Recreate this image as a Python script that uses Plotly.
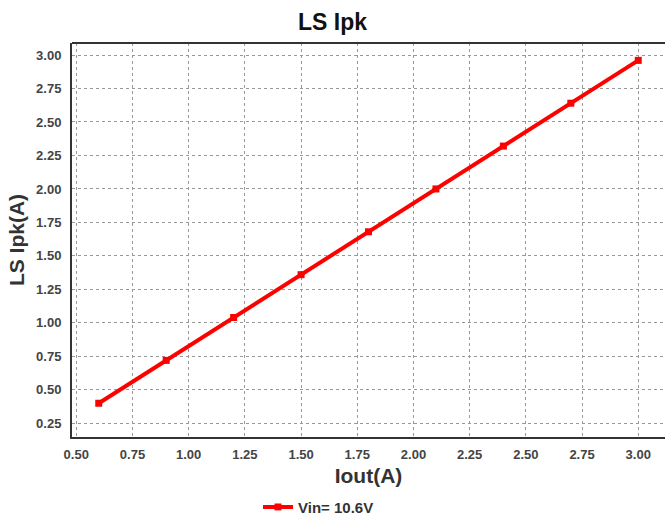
import plotly.graph_objects as go

iout = [0.6, 0.9, 1.2, 1.5, 1.8, 2.1, 2.4, 2.7, 3.0]
ls_ipk = [0.40, 0.72, 1.04, 1.36, 1.68, 2.00, 2.32, 2.64, 2.96]
series_name = "<b>Vin= 10.6V</b>"
x_ticks = [0.5, 0.75, 1.0, 1.25, 1.5, 1.75, 2.0, 2.25, 2.5, 2.75, 3.0]
y_ticks = [0.25, 0.5, 0.75, 1.0, 1.25, 1.5, 1.75, 2.0, 2.25, 2.5, 2.75, 3.0]

FONT = "Liberation Sans, Arial, sans-serif"

fig = go.Figure()
fig.add_trace(go.Scatter(
    x=iout, y=ls_ipk, mode="lines+markers", name=series_name,
    line=dict(color="#ff0000", width=4),
    marker=dict(symbol="square", size=7, color="#ff0000"),
))

fig.update_layout(
    width=665, height=515,
    margin=dict(l=72, r=0, t=43, b=78, autoexpand=False),
    paper_bgcolor="white", plot_bgcolor="white",
    title=dict(text="<b>LS Ipk</b>", x=0.5, xanchor="center", y=1 - 22/515, yanchor="middle",
               font=dict(family=FONT, size=23, color="#111")),
    showlegend=True,
    legend=dict(orientation="h", x=(258 - 72) / 593, xanchor="left", y=-0.178, yanchor="middle",
                font=dict(family=FONT, size=15, color="#333"),
                itemwidth=30),
    font=dict(family=FONT, color="#444"),
)
fig.update_xaxes(
    range=[0.481, 3.119], tickmode="array",
    tickvals=x_ticks,
    ticktext=["<b>%.2f</b>" % v for v in x_ticks],
    tickfont=dict(family=FONT, size=13, color="#444"),
    showgrid=True, gridcolor="#999", griddash="dot", gridwidth=1,
    showline=True, linecolor="#333", linewidth=2, mirror=False,
    zeroline=False, ticks="", ticklabelstandoff=4, automargin=False,
    title=dict(text="<b>Iout(A)</b>", font=dict(family=FONT, size=21, color="#333"), standoff=8),
)
fig.update_yaxes(
    range=[0.148, 3.0896], tickmode="array",
    tickvals=y_ticks,
    ticktext=["<b>%.2f</b>" % v for v in y_ticks],
    tickfont=dict(family=FONT, size=13, color="#444"),
    showgrid=True, gridcolor="#999", griddash="dot", gridwidth=1,
    showline=True, linecolor="#333", linewidth=2,
    zeroline=False, ticks="", ticklabelstandoff=6, automargin=False,
    title=dict(text="<b>LS Ipk(A)</b>", font=dict(family=FONT, size=21, color="#333"), standoff=6),
)
# top border line
fig.add_shape(type="line", xref="paper", yref="paper", x0=0, x1=1, y0=1, y1=1,
              line=dict(color="#333", width=2))

fig.write_html("out.html")
